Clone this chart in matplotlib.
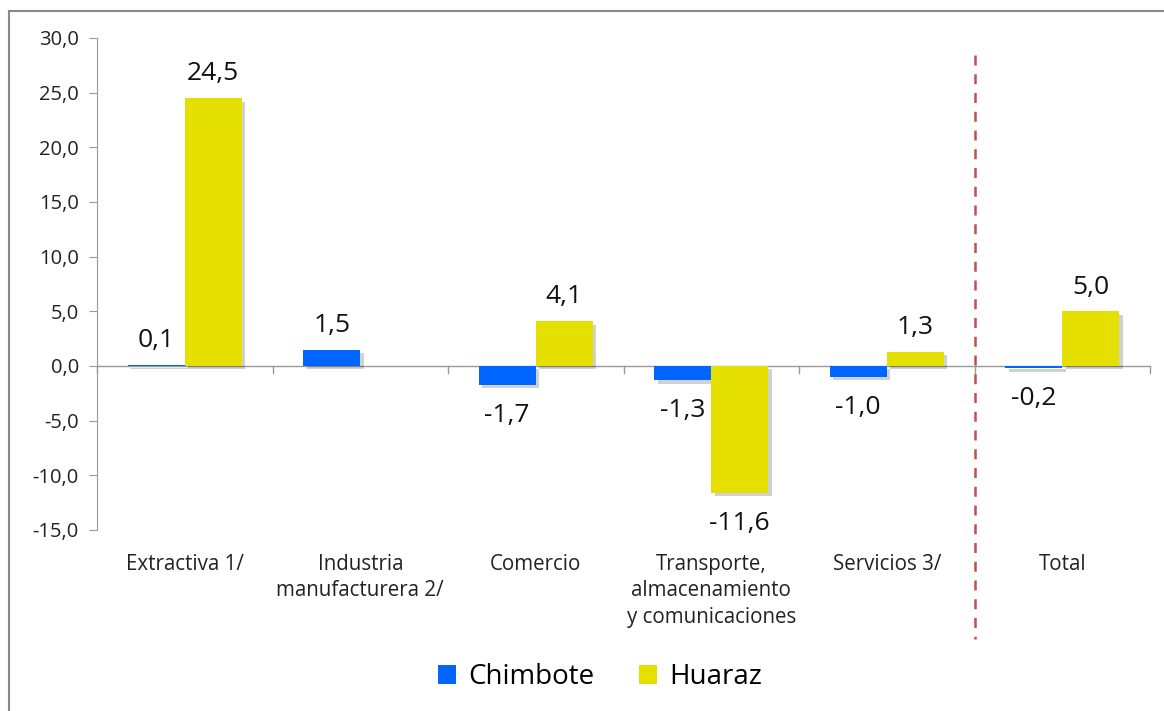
import numpy as np
import matplotlib.pyplot as plt
import matplotlib.patheffects as pe
from matplotlib.patches import Rectangle

# data
categories = ['Extractiva 1/', 'Industria\nmanufacturera 2/', 'Comercio',
              'Transporte,\nalmacenamiento\ny comunicaciones', 'Servicios 3/', 'Total']
chimbote = [0.1, 1.5, -1.7, -1.3, -1.0, -0.2]
huaraz = [24.5, np.nan, 4.1, -11.6, 1.3, 5.0]
yticks = [-15, -10, -5, 0, 5, 10, 15, 20, 25, 30]

blue = '#0066FF'
yellow = '#E6E000'

plt.rcParams['font.family'] = ['Open Sans', 'DejaVu Sans']

fig = plt.figure(figsize=(11.64, 7.11), dpi=100)
ax = fig.add_axes([97/1164, 1-530/711, 1053/1164, 492/711])

x = np.arange(len(categories))
w = 0.325
b1 = ax.bar(x - w/2, chimbote, w, color=blue, label='Chimbote', zorder=3)
b2 = ax.bar(x + w/2, huaraz, w, color=yellow, label='Huaraz', zorder=3)

def fmt(v):
    return ('%.1f' % v).replace('.', ',')

for bars, vals in [(b1, chimbote), (b2, huaraz)]:
    for b, v in zip(bars, vals):
        if np.isnan(v):
            continue
        xc = b.get_x() + b.get_width()/2
        if v >= 0:
            ax.annotate(fmt(v), (xc, v), xytext=(0, 8.5), textcoords='offset points',
                        ha='center', va='bottom', fontsize=19, color='#111111')
        else:
            ax.annotate(fmt(v), (xc, v), xytext=(0, -13), textcoords='offset points',
                        ha='center', va='top', fontsize=19, color='#111111')

ax.set_xlim(-0.5, len(categories) - 0.5)
ax.set_ylim(-15, 30)
ax.set_yticks(yticks)
ax.set_yticklabels([fmt(v) for v in yticks], fontsize=14.5, color='#222222')
ax.tick_params(axis='y', length=6, color='#999999', pad=7)

for s in ['top', 'right', 'bottom']:
    ax.spines[s].set_visible(False)
ax.spines['left'].set_color('#999999')
ax.axhline(0, color='#999999', lw=1, zorder=2)

# tick marks on the zero line at category boundaries
ax.set_xticks([])
for xb in np.arange(-0.5, len(categories), 1.0):
    ax.plot([xb, xb], [0, -0.6], color='#999999', lw=1, clip_on=False, zorder=2)

for xi, c in zip(x, categories):
    ax.text(xi, -0.048, c, transform=ax.get_xaxis_transform(), ha='center', va='top',
            fontsize=14.8, color='#222222', linespacing=1.35)

# separator before Total
ax.plot([4.5, 4.5], [28.4, -25], color='#C0504D', lw=1.8, ls=(0, (4, 3.5)), clip_on=False, zorder=4)

fig.legend(loc='center', bbox_to_anchor=(600/1164, 1-677/711), ncol=2, frameon=False,
           fontsize=20, handlelength=0.65, handleheight=0.65, handletextpad=0.45,
           columnspacing=1.6)

# soft shadow on bars (after legend so handles stay plain)
shadow = [pe.SimplePatchShadow(offset=(2.5, -2.5), shadow_rgbFace='#000000', alpha=0.18), pe.Normal()]
for b in list(b1) + list(b2):
    b.set_path_effects(shadow)

fig.patches.append(Rectangle((9/1164, -0.1), 1.2, 1-11/711 + 0.1, transform=fig.transFigure,
                             fill=False, edgecolor='#888888', lw=1.5))

fig.savefig('out.png', dpi=100)
